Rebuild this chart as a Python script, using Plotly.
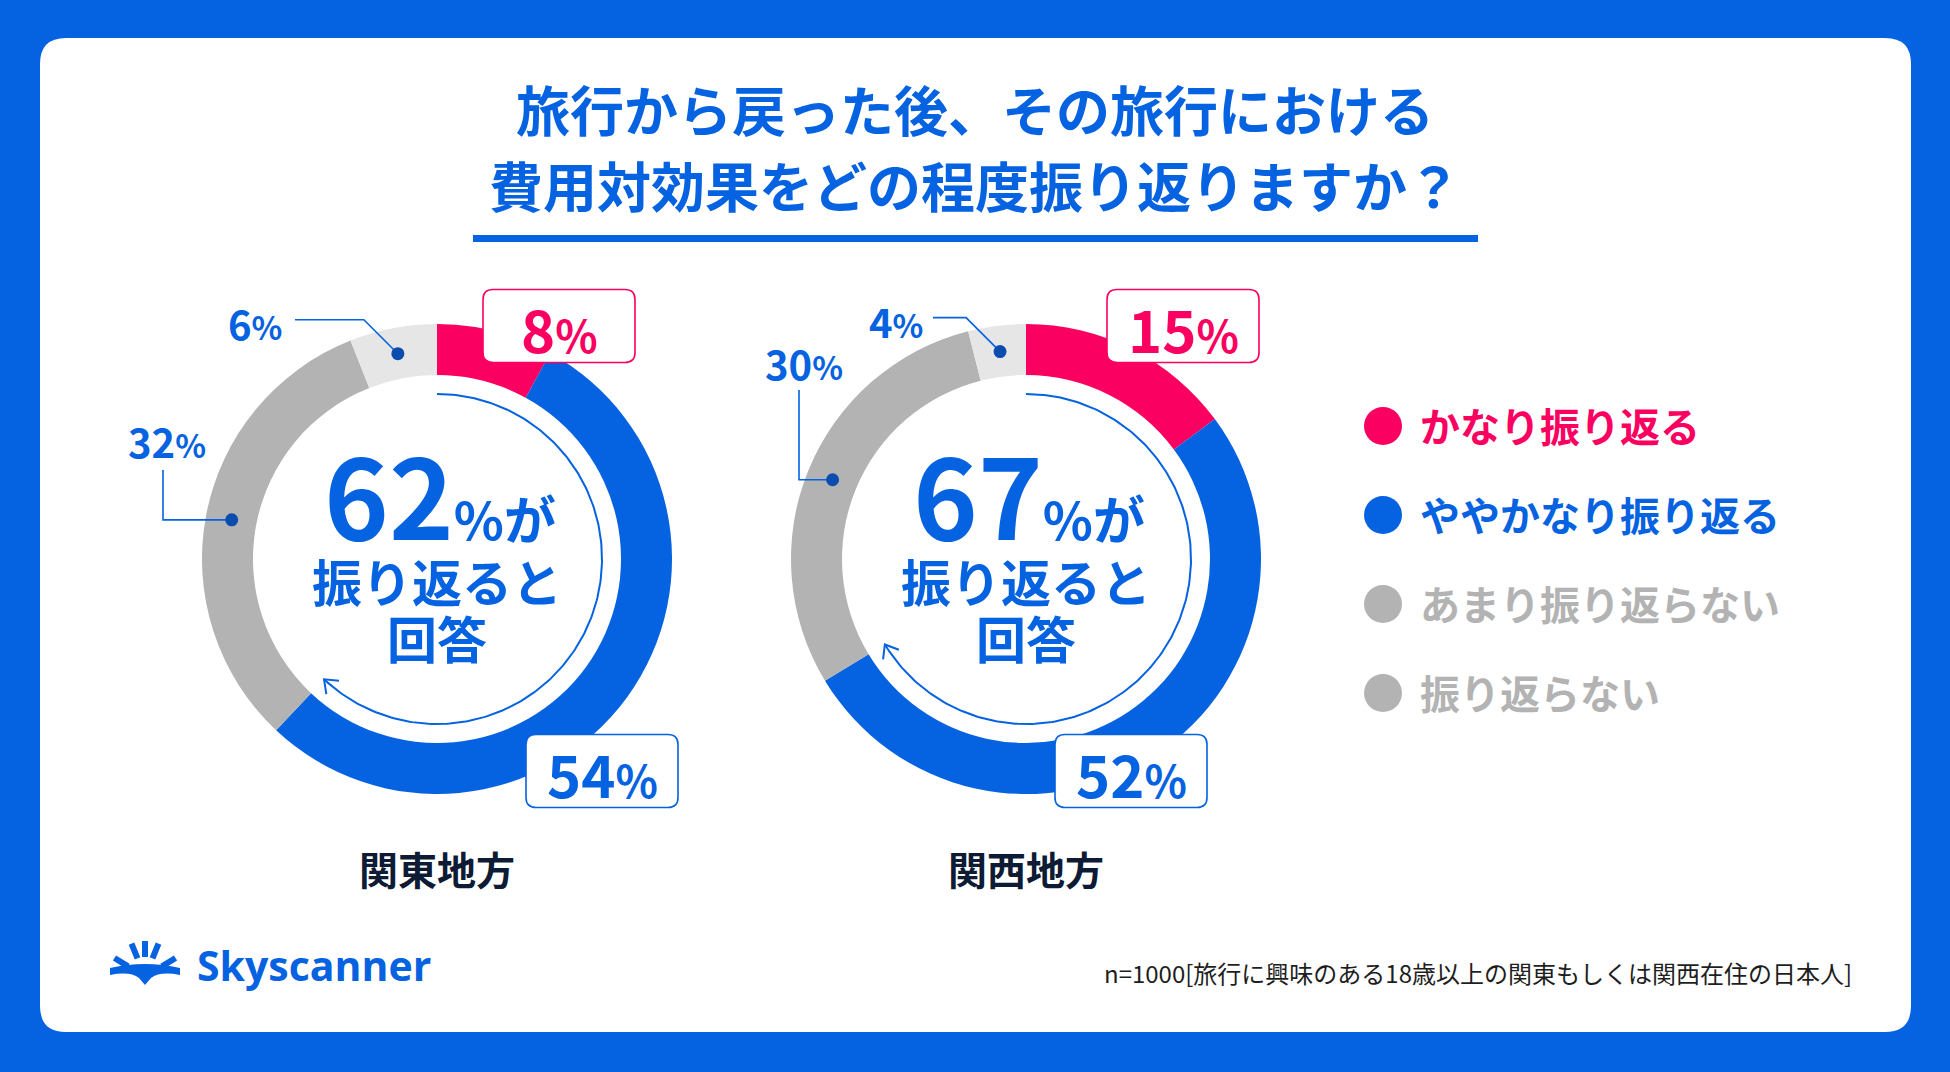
import numpy as np
import plotly.graph_objects as go

# ---------------- data ----------------
categories = ["かなり振り返る", "ややかなり振り返る", "あまり振り返らない", "振り返らない"]
regions = ["関東地方", "関西地方"]
kanto_values = [8, 54, 32, 6]
kansai_values = [15, 52, 30, 4]
series = [kanto_values, kansai_values]
title_lines = ["旅行から戻った後、その旅行における", "費用対効果をどの程度振り返りますか？"]
center_suffix = "%が"
center_lines = ["振り返ると", "回答"]
footnote = "n=1000[旅行に興味のある18歳以上の関東もしくは関西在住の日本人]"
brand = "Skyscanner"

# ---------------- style ----------------
W, H = 1950, 1072
BLUE = "#0562E0"
PINK = "#FA0060"
GRAY = "#B3B3B3"
LGRAY = "#E6E6E6"
NAVY = "#0D1B35"
DOTC = "#0A4DAF"
seg_colors = [PINK, BLUE, GRAY, LGRAY]
legend_colors = [PINK, BLUE, GRAY, GRAY]
FONT = "Noto Sans CJK JP"

centers = [(437, 559), (1026, 559)]
R_OUT, R_IN, R_ARC, R_DOT = 235, 184, 165, 209
BOX_W, BOX_H = 152, 73
# box label offsets (relative to donut centre) for the first two categories
box_offsets = [[(122, -233), (165, 212)], [(157, -233), (105, 212)]]
# small label layout (relative to centre)
lab3 = [dict(text_right=-153, line_start=-142), dict(text_right=-101, line_start=-93)]
lab2 = [dict(tx=-270, ty=-118, vx=-274, vy=-89), dict(tx=-222, ty=-196, vx=-227, vy=-169)]

fig = go.Figure()
shapes = []
annotations = []


def rounded_rect(x0, y0, x1, y1, r):
    return (f"M{x0+r},{y0} L{x1-r},{y0} Q{x1},{y0} {x1},{y0+r} L{x1},{y1-r} "
            f"Q{x1},{y1} {x1-r},{y1} L{x0+r},{y1} Q{x0},{y1} {x0},{y1-r} "
            f"L{x0},{y0+r} Q{x0},{y0} {x0+r},{y0} Z")


def pct_html(v, small):
    return f"{v}<span style='font-size:{small}px'>%</span>"


def ann(x, y, text, size, color, xanchor="center", yanchor="middle", weight=700, family=FONT):
    annotations.append(dict(x=x, y=y, xref="x", yref="y", text=text, showarrow=False,
                            xanchor=xanchor, yanchor=yanchor,
                            font=dict(family=family, size=size, color=color, weight=weight)))


# card background
shapes.append(dict(type="path", xref="x", yref="y", layer="below",
                   path=rounded_rect(40, 38, 1911, 1032, 26),
                   fillcolor="white", line=dict(width=0)))

# title + underline
ann(975, 108, title_lines[0], 54, BLUE)
ann(975, 184, title_lines[1], 54, BLUE)
shapes.append(dict(type="rect", xref="x", yref="y", x0=473, x1=1478, y0=235, y1=242,
                   fillcolor=BLUE, line=dict(width=0), layer="above"))

for k, (vals, (cx, cy)) in enumerate(zip(series, centers)):
    total = sum(vals)
    fig.add_trace(go.Pie(
        values=vals, labels=categories, sort=False, direction="clockwise", rotation=0,
        hole=R_IN / R_OUT, textinfo="none", showlegend=False,
        marker=dict(colors=seg_colors, line=dict(width=0)),
        domain=dict(x=[(cx - R_OUT) / W, (cx + R_OUT) / W],
                    y=[(H - cy - R_OUT) / H, (H - cy + R_OUT) / H])))

    # inner arc covering the "振り返る" share, with arrow head
    share = (vals[0] + vals[1]) / total
    th = np.linspace(0, share * 2 * np.pi, 240)
    ax = cx + R_ARC * np.sin(th)
    ay = cy - R_ARC * np.cos(th)
    fig.add_trace(go.Scatter(x=ax, y=ay, mode="lines", line=dict(color=BLUE, width=2),
                             hoverinfo="skip", showlegend=False))
    te = th[-1]
    tip = np.array([ax[-1], ay[-1]])
    tang = np.array([np.cos(te), np.sin(te)])
    arms = []
    for s in (1, -1):
        a = s * np.radians(38)
        rot = np.array([tang[0] * np.cos(a) - tang[1] * np.sin(a),
                        tang[0] * np.sin(a) + tang[1] * np.cos(a)])
        arms.append(tip - 15 * rot)
    fig.add_trace(go.Scatter(x=[arms[0][0], tip[0], arms[1][0]], y=[arms[0][1], tip[1], arms[1][1]],
                             mode="lines", line=dict(color=BLUE, width=2),
                             hoverinfo="skip", showlegend=False))

    # centre text
    yes = vals[0] + vals[1]
    ann(cx + 3, cy - 67, f"{yes}<span style='font-size:52px'>{center_suffix}</span>", 110, BLUE)
    ann(cx, cy + 21, center_lines[0], 50, BLUE)
    ann(cx, cy + 78, center_lines[1], 50, BLUE)

    # boxed labels (first two categories)
    for i in range(2):
        bx = cx + box_offsets[k][i][0]
        by = cy + box_offsets[k][i][1]
        col = seg_colors[i]
        shapes.append(dict(type="path", xref="x", yref="y", layer="above",
                           path=rounded_rect(bx - BOX_W / 2, by - BOX_H / 2, bx + BOX_W / 2, by + BOX_H / 2, 10),
                           fillcolor="white", line=dict(color=col, width=1.6)))
        ann(bx, by + 2, pct_html(vals[i], 44), 58, col)

    # dot positions from data (mid-angle of the slice)
    cum = np.cumsum([0] + vals)
    dots = {}
    for i in (2, 3):
        frac = (cum[i] + vals[i] / 2) / total
        ang = frac * 2 * np.pi
        dots[i] = (cx + R_DOT * np.sin(ang), cy - R_DOT * np.cos(ang))

    # label for category 3 (horizontal + diagonal leader)
    dx3, dy3 = dots[3]
    ey = dy3 - 34
    ex = dx3 - 34
    sx = cx + lab3[k]["line_start"]
    shapes.append(dict(type="path", xref="x", yref="y", layer="above",
                       path=f"M{sx},{ey} L{ex},{ey} L{dx3},{dy3}",
                       line=dict(color=BLUE, width=1.6)))
    ann(cx + lab3[k]["text_right"], ey + 3, pct_html(vals[3], 32), 40, BLUE, xanchor="right")

    # label for category 2 (vertical + horizontal leader)
    dx2, dy2 = dots[2]
    vx = cx + lab2[k]["vx"]
    vy = cy + lab2[k]["vy"]
    shapes.append(dict(type="path", xref="x", yref="y", layer="above",
                       path=f"M{vx},{vy} L{vx},{dy2} L{dx2},{dy2}",
                       line=dict(color=BLUE, width=1.6)))
    ann(cx + lab2[k]["tx"], cy + lab2[k]["ty"], pct_html(vals[2], 32), 40, BLUE)

    for i in (2, 3):
        x0, y0 = dots[i]
        shapes.append(dict(type="circle", xref="x", yref="y", layer="above",
                           x0=x0 - 6.5, x1=x0 + 6.5, y0=y0 - 6.5, y1=y0 + 6.5,
                           fillcolor=DOTC, line=dict(width=0)))

    # region label
    ann(cx, 868, regions[k], 39, NAVY)

# legend (custom)
leg_x, leg_y0, leg_dy = 1383, 426, 89
leg_y = [leg_y0 + j * leg_dy for j in range(len(categories))]
fig.add_trace(go.Scatter(x=[leg_x] * len(categories), y=leg_y, mode="markers",
                         marker=dict(size=38, color=legend_colors, line=dict(width=0)),
                         hoverinfo="skip", showlegend=False))
for j, c in enumerate(categories):
    ann(leg_x + 35, leg_y[j] - 1, c, 40, legend_colors[j], xanchor="left")

# footnote
ann(1854, 972, footnote, 24, "#1E1E1E", xanchor="right", weight=400)

# Skyscanner logo
sun_c = (145, 977)
for a in (-58, -22, 0, 22, 58):
    r = np.radians(a)
    x0 = sun_c[0] + 20 * np.sin(r); y0 = sun_c[1] - 20 * np.cos(r)
    x1 = sun_c[0] + 36 * np.sin(r); y1 = sun_c[1] - 36 * np.cos(r)
    shapes.append(dict(type="line", xref="x", yref="y", x0=x0, y0=y0, x1=x1, y1=y1,
                       line=dict(color=BLUE, width=6), layer="above"))
shapes.append(dict(type="path", xref="x", yref="y", layer="above",
                   path="M110,968 Q145,960 180,968 L180,975 Q160,971 151,978 L145,985 L139,978 Q130,971 110,975 Z",
                   fillcolor=BLUE, line=dict(width=0)))
ann(195, 965, brand, 41, BLUE, xanchor="left", family="Open Sans")

fig.update_layout(
    width=W, height=H, margin=dict(l=0, r=0, t=0, b=0),
    paper_bgcolor=BLUE, plot_bgcolor="rgba(0,0,0,0)",
    xaxis=dict(range=[0, W], visible=False, domain=[0, 1], fixedrange=True),
    yaxis=dict(range=[H, 0], visible=False, domain=[0, 1], fixedrange=True),
    shapes=shapes, annotations=annotations, showlegend=False,
)

fig.write_html("out.html")
